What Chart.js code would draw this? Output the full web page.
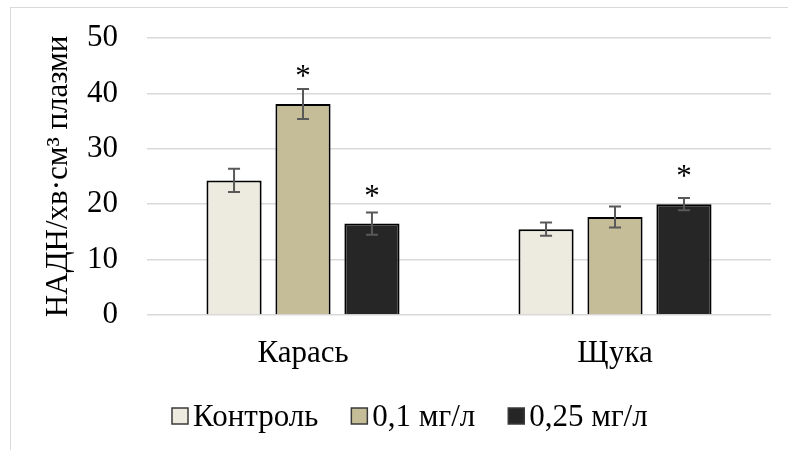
<!DOCTYPE html>
<html>
<head>
<meta charset="utf-8">
<script src="https://cdn.jsdelivr.net/npm/chart.js@4/dist/chart.umd.min.js"></script>
<style>
  html, body { margin: 0; padding: 0; background: #fff; overflow: hidden; }
  #wrap { position: relative; width: 788px; height: 450px; }
  #frame { position: absolute; left: 10px; top: 7px; width: 820px; height: 480px;
           border-top: 1px solid #d9d9d9; border-left: 1px solid #d9d9d9; }
  canvas { position: absolute; left: 0; top: 0; }
</style>
</head>
<body>
<div id="wrap">
  <div id="frame"></div>
  <canvas id="c" width="788" height="450"></canvas>
</div>
<script>
// Activity values by fish species and exposure level
const categories = ['Карась', 'Щука'];
const seriesNames = ['Контроль', '0,1 мг/л', '0,25 мг/л'];
const control = [24.3, 15.5];
const dose01 = [38.1, 17.7];
const dose025 = [16.5, 20.0];
// Standard errors
const controlErr = [2.1, 1.2];
const dose01Err = [2.7, 1.9];
const dose025Err = [2.0, 1.1];
// Significance marks
const controlMarks = ['', ''];
const dose01Marks = ['*', ''];
const dose025Marks = ['*', '*'];
// Y axis
const yMin = 0, yMax = 50, yStep = 10;
const yTitle = 'НАДН/хв·см³ плазми';

const FONT = "'Liberation Serif', 'Times New Roman', serif";
const FS = 31;

const errorBars = {
  id: 'errorBars',
  afterDatasetsDraw(chart) {
    const ctx = chart.ctx, ys = chart.scales.y;
    ctx.save();
    ctx.strokeStyle = '#595959';
    ctx.lineWidth = 2;
    chart.data.datasets.forEach((ds, i) => {
      chart.getDatasetMeta(i).data.forEach((bar, j) => {
        const v = ds.data[j], e = ds.errors[j];
        const t = ys.getPixelForValue(v + e), b = ys.getPixelForValue(v - e);
        const x = bar.x, w = 6;
        ctx.beginPath();
        ctx.moveTo(x, t); ctx.lineTo(x, b);
        ctx.moveTo(x - w, t); ctx.lineTo(x + w, t);
        ctx.moveTo(x - w, b); ctx.lineTo(x + w, b);
        ctx.stroke();
      });
    });
    ctx.restore();
  }
};

const sigMarks = {
  id: 'sigMarks',
  afterDatasetsDraw(chart) {
    const ctx = chart.ctx;
    ctx.save();
    ctx.fillStyle = '#000';
    ctx.font = FS + 'px ' + FONT;
    ctx.textAlign = 'center';
    ctx.textBaseline = 'alphabetic';
    chart.data.datasets.forEach((ds, i) => {
      chart.getDatasetMeta(i).data.forEach((bar, j) => {
        const m = ds.marks[j];
        if (m) ctx.fillText(m, bar.x, bar.y - 18);
      });
    });
    ctx.restore();
  }
};

const bottomLegend = {
  id: 'bottomLegend',
  afterDraw(chart) {
    const ctx = chart.ctx;
    const box = 16, gap = 5, spacing = 33, baseline = 426, center = 410;
    ctx.save();
    ctx.font = FS + 'px ' + FONT;
    const items = chart.data.datasets.map(ds => ({
      text: ds.label, fill: ds.backgroundColor, w: ctx.measureText(ds.label).width
    }));
    const total = items.reduce((s, it) => s + box + gap + it.w, 0) + spacing * (items.length - 1);
    let x = Math.round(center - total / 2);
    ctx.textBaseline = 'alphabetic';
    ctx.textAlign = 'left';
    items.forEach(it => {
      ctx.fillStyle = it.fill;
      ctx.fillRect(x, baseline - 2 - box, box, box);
      ctx.strokeStyle = '#3a3a3a';
      ctx.lineWidth = 1.5;
      ctx.strokeRect(x, baseline - 2 - box, box, box);
      ctx.fillStyle = '#000';
      ctx.fillText(it.text, x + box + gap, baseline);
      x += box + gap + it.w + spacing;
    });
    ctx.restore();
  }
};

const fills = ['#edebe0', '#c4bd97', '#262626'];
const values = [control, dose01, dose025];
const errs = [controlErr, dose01Err, dose025Err];
const marks = [controlMarks, dose01Marks, dose025Marks];

new Chart(document.getElementById('c'), {
  type: 'bar',
  data: {
    labels: categories,
    datasets: seriesNames.map((name, i) => ({
      label: name,
      data: values[i],
      errors: errs[i],
      marks: marks[i],
      backgroundColor: fills[i],
      borderColor: '#000',
      borderWidth: 2,
      categoryPercentage: 0.663,
      barPercentage: 0.8
    }))
  },
  options: {
    responsive: false,
    animation: false,
    devicePixelRatio: 1,
    layout: { padding: { top: 38, left: 40, right: 17, bottom: 0 } },
    plugins: { legend: { display: false }, tooltip: { enabled: false } },
    scales: {
      x: {
        grid: { display: false, drawTicks: false },
        border: { display: false },
        ticks: { color: '#000', font: { family: FONT, size: FS }, padding: 20 },
        afterFit(s) { s.height = 135; }
      },
      y: {
        min: yMin, max: yMax,
        ticks: { stepSize: yStep, color: '#000', font: { family: FONT, size: FS }, padding: 0 },
        grid: { color: '#d9d9d9', lineWidth: 1.5, drawTicks: true, tickLength: 29, tickColor: 'rgba(0,0,0,0)' },
        border: { display: false },
        title: { display: true, text: yTitle, color: '#000', font: { family: FONT, size: FS }, padding: 0 },
        afterFit(s) { s.width = 107; }
      }
    }
  },
  plugins: [errorBars, sigMarks, bottomLegend]
});
</script>
</body>
</html>
